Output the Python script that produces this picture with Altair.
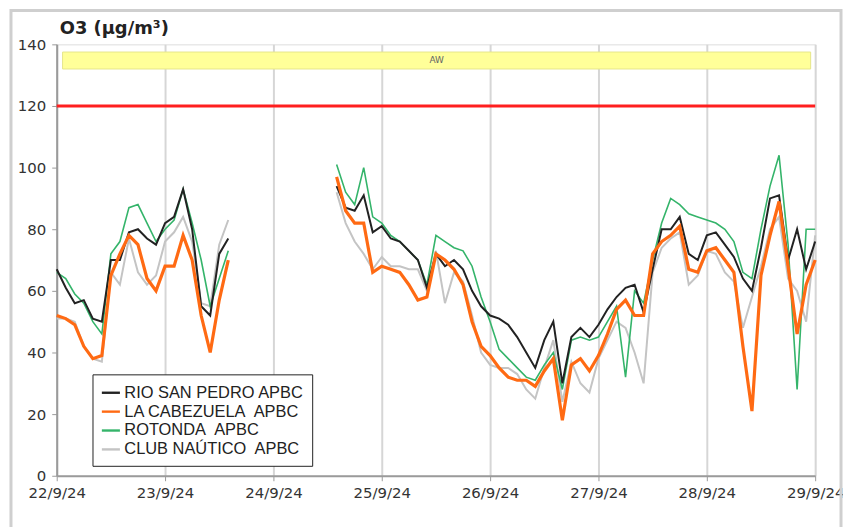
import altair as alt
import pandas as pd

# ---------------- data ----------------
chart_title = "O3 (µg/m³)"
series_names = ["RIO SAN PEDRO APBC", "LA CABEZUELA\u00a0 APBC", "ROTONDA\u00a0 APBC", "CLUB NAÚTICO\u00a0 APBC"]
series_colors = ["#222222", "#ff6a13", "#34b46a", "#c4c4c4"]
series_widths = [2.0, 3.2, 1.6, 2.0]
draw_order = [3, 2, 0, 1]  # gray first, orange on top

# hours since 22/9/24 00:00, every 2 hours up to 29/9/24 00:00
hours = list(range(0, 169, 2))
GAP = [None] * 11  # 23/9 16h .. 24/9 12h: no data

rio_1 = [67, 61, 56, 57, 51, 50, 70, 70, 79, 80, 77, 75, 82, 84, 93, 80, 55, 52, 72, 77]
rio_2 = [94, 87, 86, 91, 79, 81, 77, 76, 73, 70, 61, 72, 68, 70, 67, 60, 55, 52, 51, 49,
         45, 40, 35, 44, 50, 30, 45, 48, 45, 49, 54, 58, 61, 62, 53, 67, 80, 80, 84, 72,
         70, 78, 79, 75, 71, 64, 60, 74, 90, 91, 70, 80, 67, 76]

cab_1 = [52, 51, 49, 42, 38, 39, 65, 72, 78, 75, 64, 60, 68, 68, 78, 70, 52, 40, 57, 70]
cab_2 = [97, 86, 82, 82, 66, 68, 67, 66, 62, 57, 58, 72, 70, 67, 62, 50, 42, 39, 35, 32,
         31, 31, 29, 34, 38, 18, 36, 38, 34, 39, 46, 54, 57, 52, 52, 72, 76, 78, 81, 67,
         66, 73, 74, 70, 66, 42, 21, 65, 78, 89, 68, 46, 62, 70]

rot_1 = [66, 64, 59, 56, 50, 46, 72, 76, 87, 88, 82, 76, 80, 83, 93, 82, 70, 55, 64, 73]
rot_2 = [101, 92, 88, 100, 84, 82, 78, 76, 73, 70, 62, 78, 76, 74, 73, 68, 58, 50, 41, 38,
         35, 32, 31, 36, 40, 28, 44, 45, 44, 45, 50, 55, 32, 60, 56, 70, 82, 90, 88, 85,
         84, 83, 82, 80, 76, 66, 64, 80, 94, 104, 75, 28, 80, 80]

club_1 = [51, 51, 50, 42, 38, 37, 66, 62, 77, 66, 62, 65, 76, 79, 84, 76, 56, 55, 75, 83]
club_2 = [92, 82, 76, 72, 67, 71, 68, 68, 67, 67, 60, 73, 56, 66, 63, 52, 40, 36, 35, 35,
          33, 28, 25, 35, 44, 24, 37, 30, 27, 38, 44, 50, 48, 40, 30, 66, 74, 77, 79, 62,
          65, 73, 72, 66, 63, 48, 58, 68, 80, 84, 64, 60, 50, 78]

series_values = [rio_1 + GAP + rio_2, cab_1 + GAP + cab_2,
                 rot_1 + GAP + rot_2, club_1 + GAP + club_2]

limit_value = 120
band_label = "AW"
band_hours = [1.3, 167.0]
band_values = [132, 137.5]
y_ticks = [0, 20, 40, 60, 80, 100, 120, 140]

# ---------------- tables ----------------
start = pd.Timestamp("2024-09-22")
rows = []
for name, vals in zip(series_names, series_values):
    for h, v in zip(hours, vals):
        rows.append({"time": start + pd.Timedelta(hours=h), "value": v, "series": name})
df = pd.DataFrame(rows)

band_df = pd.DataFrame([{
    "time": start + pd.Timedelta(hours=band_hours[0]),
    "t1": start + pd.Timedelta(hours=band_hours[1]),
    "lo": band_values[0], "hi": band_values[1]}])
text_df = pd.DataFrame([{
    "time": start + pd.Timedelta(hours=(band_hours[0] + band_hours[1]) / 2),
    "value": (band_values[0] + band_values[1]) / 2, "label": band_label}])
limit_df = pd.DataFrame([{"value": limit_value}])
title_df = pd.DataFrame([{"label": chart_title}])

FONT = "DejaVu Sans"
x_scale = alt.Scale(domain=[alt.DateTime(year=2024, month=9, date=22),
                            alt.DateTime(year=2024, month=9, date=29)])
y_scale = alt.Scale(domain=[0, 140], nice=False)

x_axis = alt.Axis(format="%-d/%-m/%y", tickCount={"interval": "day", "step": 1},
                  grid=True, gridColor="#d6d6d6", gridWidth=2,
                  domainColor="#9a9a9a", domainWidth=2, tickColor="#9a9a9a",
                  tickSize=5, labelFont=FONT, labelFontSize=15, labelColor="#333333",
                  labelPadding=5, labelOverlap=False, labelBound=False, labelFlush=False)
y_axis = alt.Axis(values=y_ticks, grid=False, domainColor="#9a9a9a", domainWidth=2,
                  tickColor="#9a9a9a", tickSize=5, labelFont=FONT, labelFontSize=15,
                  labelColor="#333333", labelPadding=6)

W, H = 763, 434

frame = alt.Chart(pd.DataFrame([{"k": 1}])).mark_rect(
    fill=None, stroke="#cfcfcf", strokeWidth=3
).encode(x=alt.value(-46), x2=alt.value(W + 26), y=alt.value(-34), y2=alt.value(H + 80))

title = alt.Chart(title_df).mark_text(
    align="left", baseline="middle", font=FONT, fontSize=18, fontWeight="bold", color="#222222"
).encode(x=alt.value(3), y=alt.value(-15), text="label:N")

band = alt.Chart(band_df).mark_rect(fill="#ffff99", stroke="#e6e68a", strokeWidth=1).encode(
    x=alt.X("time:T", scale=x_scale, axis=x_axis, title=None), x2="t1:T",
    y=alt.Y("lo:Q", scale=y_scale, axis=y_axis, title=None), y2="hi:Q")

band_text = alt.Chart(text_df).mark_text(font=FONT, fontSize=9, color="#666666").encode(
    x=alt.X("time:T", scale=x_scale, axis=x_axis, title=None),
    y=alt.Y("value:Q", scale=y_scale, axis=y_axis, title=None), text="label:N")

limit = alt.Chart(limit_df).mark_rule(color="#ff1f1f", strokeWidth=3).encode(
    y=alt.Y("value:Q", scale=y_scale, axis=y_axis, title=None))

color_scale = alt.Scale(domain=series_names, range=series_colors)
legend = alt.Legend(orient="none", legendX=36, legendY=332,
                    symbolType="stroke", symbolSize=330, symbolStrokeWidth=2.4,
                    labelFont="Liberation Sans", labelFontSize=16.5, labelLimit=400,
                    labelColor="#222222", labelOffset=3,
                    strokeColor="#222222", fillColor="white",
                    padding=8, rowPadding=0, title=None)

line_layers = []
for k, i in enumerate(draw_order):
    line_layers.append(
        alt.Chart(df).transform_filter(alt.datum.series == series_names[i])
        .mark_line(strokeWidth=series_widths[i])
        .encode(
            x=alt.X("time:T", scale=x_scale, axis=x_axis, title=None),
            y=alt.Y("value:Q", scale=y_scale, axis=y_axis, title=None),
            color=alt.Color("series:N", scale=color_scale, sort=series_names,
                            legend=legend if k == 0 else None, title=None),
        )
    )

chart = alt.layer(frame, title, band, band_text, limit, *line_layers).properties(
    width=W, height=H,
    autosize=alt.AutoSizeParams(type="none"),
    padding={"left": 49, "top": 35, "right": 28, "bottom": 50},
).configure_view(stroke="#9a9a9a", strokeWidth=2).configure(background="white")

chart.save("out.html", embed_options={"renderer": "svg", "actions": False})
